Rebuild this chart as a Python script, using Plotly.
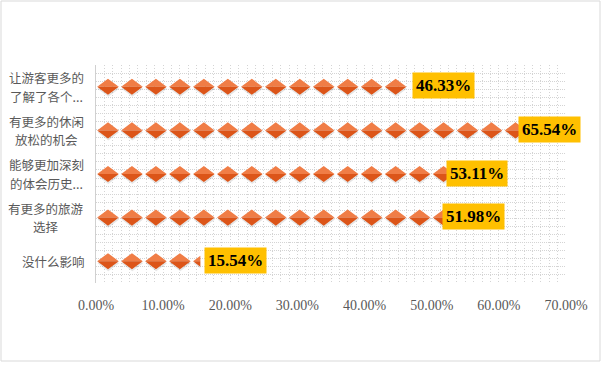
import plotly.graph_objects as go

# ---- data ----
categories = ["让游客更多的<br>了解了各个...", "有更多的休闲<br>放松的机会", "能够更加深刻<br>的体会历史...",
              "有更多的旅游<br>选择", "没什么影响"]
values = [46.33, 65.54, 53.11, 51.98, 15.54]
x_ticks = [0, 10, 20, 30, 40, 50, 60, 70]

# ---- style ----
UNIT = 3.57          # percent covered by one diamond symbol
HALF_W = 0.45 * UNIT
HALF_H = 0.185
LIGHT = "#F07D46"
DARK = "#DC5519"
label_shift = [5, -18, -7, -3, 4]
LINE_GAP = 18.5

n = len(categories)
ypos = [n - 1 - i for i in range(n)]


def clip(poly, xmax):
    out = []
    for i in range(len(poly)):
        cur, prev = poly[i], poly[i - 1]
        cin, pin = cur[0] <= xmax, prev[0] <= xmax
        def inter(a, b):
            t = (xmax - a[0]) / (b[0] - a[0])
            return (xmax, a[1] + t * (b[1] - a[1]))
        if cin:
            if not pin:
                out.append(inter(prev, cur))
            out.append(cur)
        elif pin:
            out.append(inter(prev, cur))
    return out


def build(part, dy=0.0, dx=0.0):
    xs, ys = [], []
    for v, y in zip(values, ypos):
        k = 0
        while k * UNIT < v:
            xc = (k + 0.5) * UNIT + dx
            yc = y + dy
            if part == "top":
                poly = [(xc - HALF_W, yc), (xc, yc + HALF_H), (xc + HALF_W, yc)]
            elif part == "bottom":
                poly = [(xc - HALF_W, yc), (xc + HALF_W, yc), (xc, yc - HALF_H)]
            else:
                poly = [(xc - HALF_W, yc), (xc, yc + HALF_H), (xc + HALF_W, yc), (xc, yc - HALF_H)]
            poly = clip(poly, v)
            if len(poly) >= 3:
                for px, py in poly:
                    xs.append(px)
                    ys.append(py)
                xs.append(poly[0][0])
                ys.append(poly[0][1])
                xs.append(None)
                ys.append(None)
            k += 1
    return xs, ys


fig = go.Figure()
for part, color, dy, dx in [("all", "rgba(0,0,0,0.10)", -0.045, 0.05),
                            ("top", LIGHT, 0, 0), ("bottom", DARK, 0, 0)]:
    xs, ys = build(part, dy, dx)
    fig.add_trace(go.Scatter(x=xs, y=ys, mode="lines", fill="toself", fillcolor=color,
                             line=dict(width=0, color=color), hoverinfo="skip",
                             showlegend=False, connectgaps=False))

annotations = []
for i, (c, v, y) in enumerate(zip(categories, values, ypos)):
    lines = c.split("<br>")
    m = len(lines)
    for j, s in enumerate(lines):
        if m == 1:
            pos = dict(xanchor="right", xshift=-11)
        else:
            pos = dict(xanchor="center", xshift=-50)
        annotations.append(dict(x=0, xref="paper", y=y, yref="y", text=s, showarrow=False,
                                yanchor="middle", borderpad=0, borderwidth=0,
                                yshift=((m - 1) / 2 - j) * LINE_GAP,
                                font=dict(family="Noto Sans CJK SC", size=12.5, color="#595959"),
                                **pos))
    annotations.append(dict(x=v, xref="x", y=y, yref="y", text=f"<b>{v:.2f}%</b>",
                            showarrow=False, xanchor="left", yanchor="middle",
                            xshift=label_shift[i], yshift=1, bgcolor="#FFC000", borderpad=3,
                            font=dict(family="Liberation Serif", size=17, color="black")))

fig.update_layout(
    width=602, height=372,
    margin=dict(l=96, r=36, t=65, b=89),
    paper_bgcolor="white", plot_bgcolor="white",
    showlegend=False,
    annotations=annotations,
    shapes=[dict(type="rect", xref="paper", yref="paper",
                 x0=-95 / 470, x1=(470 + 34) / 470, y0=-78 / 218, y1=(218 + 64) / 218,
                 line=dict(color="#D9D9D9", width=1), fillcolor="rgba(0,0,0,0)", layer="below")],
)
fig.update_xaxes(range=[0, 70], tickvals=x_ticks, ticktext=[f"{t:.2f}%" for t in x_ticks],
                 showgrid=True, gridcolor="#D4D4D4", griddash="1px,2px", gridwidth=1,
                 minor=dict(dtick=1.25, tick0=0, showgrid=True, gridcolor="#D4D4D4",
                            griddash="1px,2px", gridwidth=1),
                 zeroline=False, showline=False, ticks="", ticklabelstandoff=12,
                 tickfont=dict(family="Liberation Serif", size=14, color="#595959"),
                 fixedrange=True)
fig.update_yaxes(range=[-0.5, 4.5], tick0=-0.5, dtick=5 / 27, showticklabels=False,
                 showgrid=True, gridcolor="#D4D4D4", griddash="1px,1px", gridwidth=1,
                 zeroline=False, showline=True, linecolor="#D0D0D0", linewidth=1, ticks="",
                 fixedrange=True)

fig.write_html("out.html", config={"displayModeBar": False},
               post_script="document.body.style.margin='0px';document.body.style.overflow='hidden';")
